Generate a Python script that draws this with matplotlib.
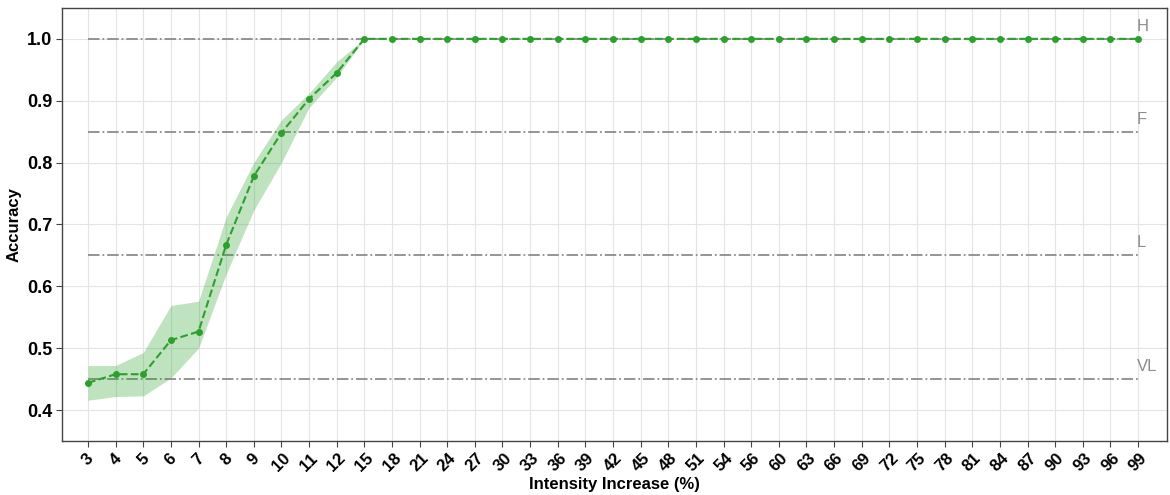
import matplotlib
matplotlib.use("Agg")
import matplotlib.pyplot as plt
import numpy as np

plt.rcParams['font.family'] = ['Liberation Sans', 'DejaVu Sans']

# Intensity increase levels (%) shown as categorical x positions
intensity = [3, 4, 5, 6, 7, 8, 9, 10, 11, 12, 15, 18, 21, 24, 27, 30, 33, 36,
             39, 42, 45, 48, 51, 54, 56, 60, 63, 66, 69, 72, 75, 78, 81, 84,
             87, 90, 93, 96, 99]
# mean accuracy per level
acc_mean = [0.444, 0.458, 0.458, 0.513, 0.527, 0.667, 0.778, 0.848, 0.903, 0.945] + [1.0] * 29
# lower / upper bounds of the shaded band
acc_low = [0.416, 0.422, 0.423, 0.452, 0.500, 0.620, 0.723, 0.800, 0.889, 0.938] + [1.0] * 29
acc_high = [0.472, 0.472, 0.493, 0.569, 0.576, 0.712, 0.800, 0.869, 0.912, 0.963] + [1.0] * 29

# reference threshold levels
thr_names = ['H', 'F', 'L', 'VL']
thr_values = [1.0, 0.85, 0.65, 0.45]

green = '#2ca02c'
x = np.arange(len(intensity))

fig = plt.figure(figsize=(11.7, 4.95), dpi=100)
ax = fig.add_axes([0.053, 0.109, 0.9445, 0.875])

for name, val in zip(thr_names, thr_values):
    ax.plot([x[0], x[-1]], [val, val], color='#8c8c8c', lw=1.3, ls='-.', zorder=2)
    ax.text(x[-1] - 0.05, val + 0.008, name, color='#8c8c8c', fontsize=12,
            ha='left', va='bottom')

ax.fill_between(x, acc_low, acc_high, color=green, alpha=0.3, lw=0, zorder=3)
ax.plot(x, acc_mean, color=green, ls='--', lw=1.5, marker='o', ms=4, zorder=4)

ax.set_xticks(x)
ax.set_xticklabels([str(v) for v in intensity], rotation=45, fontsize=12,
                   fontweight='bold')
ax.set_yticks([0.4, 0.5, 0.6, 0.7, 0.8, 0.9, 1.0])
ax.set_yticklabels(['0.4', '0.5', '0.6', '0.7', '0.8', '0.9', '1.0'],
                   fontsize=13, fontweight='bold')
ax.set_xlim(-0.94, 39.05)
ax.set_ylim(0.35, 1.05)

ax.grid(True, color='#e4e4e4', lw=0.8, ls='-', zorder=0)
ax.set_axisbelow(True)
for s in ax.spines.values():
    s.set_color('#444444')
    s.set_linewidth(1.0)
ax.tick_params(axis='both', direction='out', length=4, color='#444444', pad=3)

ax.set_ylabel('Accuracy', fontsize=12, fontweight='bold')
ax.set_xlabel('Intensity Increase (%)', fontsize=12, fontweight='bold', labelpad=2)

fig.savefig('out.png', dpi=100)
